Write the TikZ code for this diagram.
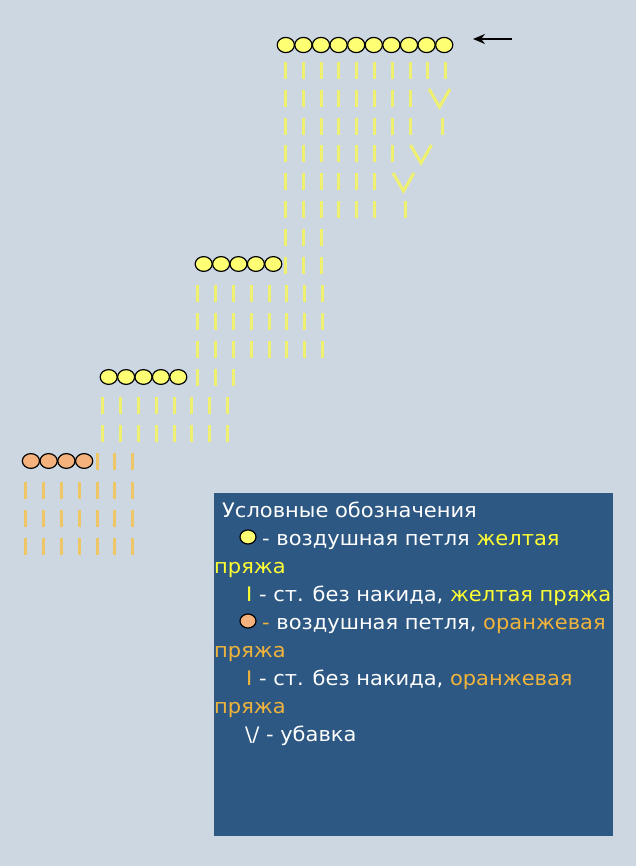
\documentclass[tikz,border=0pt]{standalone}
\usepackage{fontspec}
\setmainfont[FakeStretch=1.05]{DejaVu Sans}
\usetikzlibrary{arrows.meta}
\definecolor{bgc}{HTML}{CDD7E1}
\definecolor{legbg}{HTML}{2D5883}
\definecolor{ybarc}{HTML}{F0F070}
\definecolor{obarc}{HTML}{EEC665}
\definecolor{ycirc}{HTML}{FFFF73}
\definecolor{ocirc}{HTML}{F5B27C}
\definecolor{ytext}{HTML}{FFFF33}
\definecolor{otext}{HTML}{F0B43C}
\tikzset{
  ybar/.style={draw=ybarc, line width=3pt},
  obar/.style={draw=obarc, line width=3pt},
  ycircle/.style={draw=black, fill=ycirc, line width=1.2pt},
  ocircle/.style={draw=black, fill=ocirc, line width=1.2pt},
  legtext/.style={anchor=base west, inner sep=0pt, text=white, font=\fontsize{20}{20}\selectfont},
}
% bar row: #1 style, #2 start x, #3 step, #4 first index, #5 last index, #6 top y
\newcommand\barrow[6]{%
  \foreach \i in {#4,...,#5}{%
    \pgfmathsetmacro\bx{round(#2+#3*\i)+0.5}%
    \draw[#1] (\bx,#6) -- (\bx,#6+17);%
  }%
}
\begin{document}
\begin{tikzpicture}[x=1pt,y=-1pt]
\fill[bgc] (0,0) rectangle (636,866);
\useasboundingbox (0,0) rectangle (636,866);
% ---------- top block ----------
\foreach \i in {0,...,9} \draw[ycircle] (285.8+17.6*\i,45) ellipse [x radius=8.6, y radius=7.6];
\barrow{ybar}{285}{17.8}{0}{9}{62}
\barrow{ybar}{285}{17.8}{0}{7}{90}
\barrow{ybar}{285}{17.8}{0}{7}{118}
\barrow{ybar}{285}{17.8}{0}{6}{145}
\barrow{ybar}{285}{17.8}{0}{5}{173}
\barrow{ybar}{285}{17.8}{0}{5}{201}
\barrow{ybar}{285}{17.8}{0}{2}{229}
\barrow{ybar}{285}{17.8}{0}{2}{257}
\draw[ybar] (429,89) -- (439.5,107) -- (450,89);
\draw[ybar] (442.5,118) -- (442.5,135);
\draw[ybar] (410.5,145) -- (421,163) -- (431.5,145);
\draw[ybar] (393,173) -- (403.5,191) -- (414,173);
\draw[ybar] (405.5,201) -- (405.5,218);
% ---------- second block ----------
\foreach \i in {0,...,4} \draw[ycircle] (203.7+17.4*\i,264) ellipse [x radius=8.5, y radius=7.4];
\barrow{ybar}{197}{17.9}{0}{7}{285}
\barrow{ybar}{197}{17.9}{0}{7}{313}
\barrow{ybar}{197}{17.9}{0}{7}{341}
\barrow{ybar}{197}{17.9}{0}{2}{369}
% ---------- third block ----------
\foreach \i in {0,...,4} \draw[ycircle] (108.7+17.4*\i,377) ellipse [x radius=8.5, y radius=7.4];
\barrow{ybar}{102}{17.9}{0}{7}{397}
\barrow{ybar}{102}{17.9}{0}{7}{425}
% ---------- orange block ----------
\foreach \i in {0,...,3} \draw[ocircle] (30.9+17.75*\i,461) ellipse [x radius=8.6, y radius=7.4];
\barrow{obar}{25}{17.9}{4}{6}{453}
\barrow{obar}{25}{17.9}{0}{6}{482}
\barrow{obar}{25}{17.9}{0}{6}{510}
\barrow{obar}{25}{17.9}{0}{6}{538}
% ---------- arrow ----------
\coordinate (arrS) at (512,39);
\coordinate (arrE) at (473,39);
\draw[-{Stealth[length=12pt,width=10pt]}, line width=1.8pt] (arrS) -- (arrE);
% ---------- legend ----------
\fill[legbg] (214,493) rectangle (613,836);
\node[legtext] (l1) at (222,517) {Условные обозначения};
\draw[ycircle] (248,537) ellipse [x radius=8, y radius=7];
\node[legtext] (l2) at (262,545) {- воздушная петля \textcolor{ytext}{желтая}};
\node[legtext, text=ytext] (l3) at (214,573) {пряжа};
\node[legtext] (l4) at (246,601) {\textcolor{ytext}{I} - ст. без накида, \textcolor{ytext}{желтая пряжа}};
\draw[ocircle] (248,621) ellipse [x radius=8, y radius=7];
\node[legtext] (l5) at (262,629) {\textcolor{otext}{-} воздушная петля, \textcolor{otext}{оранжевая}};
\node[legtext, text=otext] (l6) at (214,657) {пряжа};
\node[legtext] (l7) at (246,685) {\textcolor{otext}{I} - ст. без накида, \textcolor{otext}{оранжевая}};
\node[legtext, text=otext] (l8) at (214,713) {пряжа};
\node[legtext] (l9) at (245,741) {\textbackslash/ - убавка};
\end{tikzpicture}
\end{document}
